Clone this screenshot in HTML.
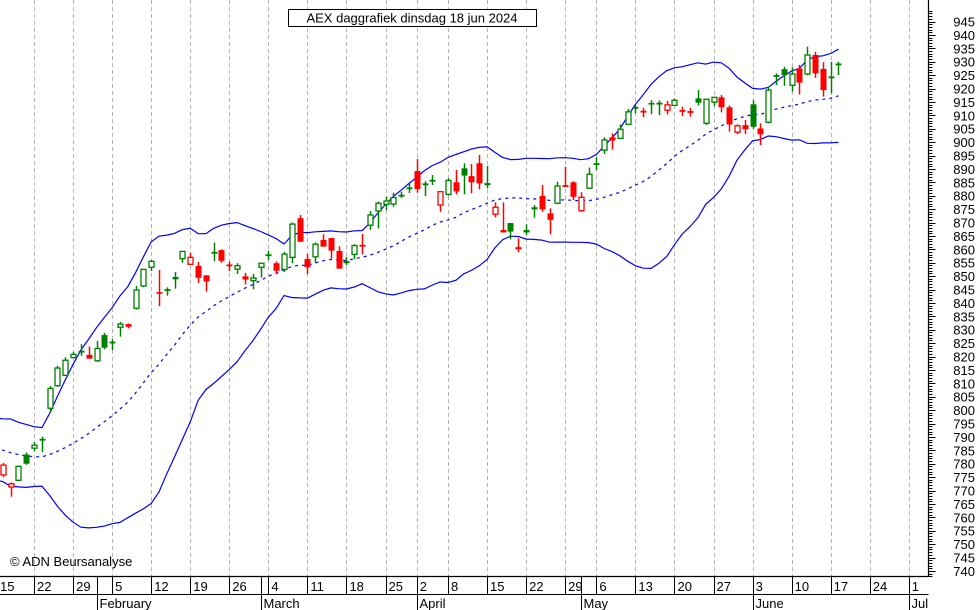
<!DOCTYPE html>
<html><head><meta charset="utf-8">
<style>
html,body{margin:0;padding:0;background:#fff;}
svg{display:block;font-family:"Liberation Sans",sans-serif;}
</style></head>
<body>
<svg id="chart" width="980" height="610" viewBox="0 0 980 610" xmlns="http://www.w3.org/2000/svg">
<rect x="0" y="0" width="980" height="610" fill="#fff"/>
<g id="grid"></g>
<g id="bands"></g>
<g id="candles"></g>
<g id="yaxis"></g>
<g id="xaxis"></g>
<g>
<rect x="288.5" y="9.5" width="248" height="17" fill="#fff" stroke="#000" stroke-width="1"/>
<text x="412" y="22.5" font-size="13" text-anchor="middle" fill="#000">AEX daggrafiek dinsdag 18 jun 2024</text>
</g>
<text x="10" y="566" font-size="13" fill="#000">© ADN Beursanalyse</text>
</svg>
<script>
const priorCloses=[789,791,793,790,792,791,790,792,791,789,787,781,778,781,780,783,779,776,777];
const opens=[778,775.8,771.3,773.8,783.4,785.8,788.7,800.7,809.1,813,
819.6,821.6,820.6,818.4,828,825,830.9,832.1,838,846.3,
853.3,844,844.6,849.7,856.5,854.4,853.8,850.3,858.5,859.7,
854.2,852.6,849.9,848.3,853.3,857.6,854.8,852.5,857,871.6,
856.4,857.2,863.5,864.2,859.4,855.6,858.1,861.5,869,874.3,
876.8,876.9,879.8,882.6,889.2,883.9,885.4,876.5,880.5,885,
890.2,887.3,892.1,883.9,873.1,867.2,869.8,860,866.3,874.9,
879.9,873.4,877.2,883.8,885,874.4,882.8,891.6,897,901.8,
901.4,906.6,912.6,911.5,914.6,914.6,911.9,913.7,911.8,911.4,
916.3,907,914.9,916.7,913,903.7,906.3,914.1,905.1,907.4,
924.5,927.2,921.2,927.5,925.4,932.5,927.3,924,928.8];
const highs=[781,780.3,773,779.3,784.2,788,790.1,809,816.5,819.7,
821.7,824.6,823.7,825.8,828.8,826.4,832.9,832.3,846.3,852.7,
856,852.3,845.8,851.5,859.4,858.7,855.3,850.3,862.5,860,
855.4,854.8,851.2,850.8,855,859.5,855.5,859,870,872.8,
858.2,862.6,865.6,864.2,861.1,857.2,861.9,865.7,874.3,877.8,
879.6,881.1,881.5,884.6,893.7,885.4,887.7,881.5,886.5,889.6,
892.1,891.8,895.2,891.1,877.5,877.5,869.8,864.1,869.3,876.5,
884,875.3,885.2,890.8,885.4,881.3,890.5,894.3,901.8,903.3,
906.6,912.4,913.8,912.8,915.7,915.5,915.4,916.2,913.2,912.8,
919.4,916.2,916.7,917.6,913.7,906.6,908.3,915.6,907,920.8,
925.7,928.1,927.9,928.8,935.6,933.7,929.8,930,930];
const lows=[776,775,767.7,773.5,779.6,784.7,784.3,799.4,808.7,812.7,
819.3,820.3,819.2,818,822.7,822.4,827.4,830.5,837.5,845.8,
851.9,838.8,842.7,845.3,855,854.4,847.5,844.2,855.6,855,
851.9,850.8,846.9,845.1,849.5,856,850.8,851.5,854.8,862.8,
850.8,855,861,856.6,852.8,854.1,856.3,858.1,867.3,867.8,
874.6,875.9,879.2,881,881.1,879.8,884,874,880,880.5,
880.5,880.9,882.4,882.8,871.9,866.3,863.7,858.9,865.2,871.8,
874,865.6,876.8,883.2,878.4,874,882.5,889.6,895.6,897.2,
901.2,906.3,910.7,909.3,910.4,910,910.3,913.5,909.7,909.5,
913.6,906.4,913.5,911.1,903.9,903,903,905,898.9,907,
921.3,921,918.8,917.8,924.9,924,917,918.2,925];
const closes=[780,779.5,772.5,779,780,786.9,789.2,808.1,815.7,818.6,
820.8,822,819.2,823,823.3,825.4,832.1,831.1,844.8,852.5,
855.5,843.4,845,848.8,859.2,857,849.4,848,858.9,855.7,
853.8,853.9,848.7,849.3,854.8,858,852,858.2,869.4,862.8,
853.3,861.9,861,859.5,852.8,854.8,861.4,861.2,872.8,877.2,
878,879.3,880.2,882.9,882.5,884.6,885.8,881.5,885.7,881.6,
887.5,885,884.6,884.7,875.7,866.3,866.6,860.8,867.2,875.7,
874.9,871,883.6,883.4,879.6,879.4,888,892,900.8,900.6,
904.8,911.3,913,911.2,914,914.1,913.9,915.6,911.5,911.1,
914.7,916,916.7,913,906.6,906.1,904.8,905.7,902.9,919.4,
924.9,925,925.4,922.2,932.5,925.7,919.4,924.3,929.2];
const weekLabels=["15","22","29","5","12","19","26","4","11","18","25","2","8","15","22","29","6","13","20","27","3","10","17","24","1"];
const weekIndex=[0,5,10,15,20,25,30,35,40,45,50,54,58,63,68,73,77,82,87,92,97,102,107,112,117];
const monthLabels=["February","March","April","May","June","Jul"];
const monthIndex=[13,34,54,75,97,117];
const yTicks=[945,940,935,930,925,920,915,910,905,900,895,890,885,880,875,870,865,860,855,850,845,840,835,830,825,820,815,810,805,800,795,790,785,780,775,770,765,760,755,750,745,740];

const NS="http://www.w3.org/2000/svg";
function X(i){return -5+7.81*i;}
function Y(v){return 21.5+(945-v)*2.68;}
function mk(tag,attrs,parent){const e=document.createElementNS(NS,tag);for(const k in attrs)e.setAttribute(k,attrs[k]);parent.appendChild(e);return e;}
const AX=928.5, AY=576.5;

const grid=document.getElementById('grid');
weekIndex.forEach((wi,k)=>{
  const x=Math.round(X(wi))+0.5;
  if(x<2||x>AX)return;
  const l=mk('line',{x1:x,y1:0,x2:x,y2:AY,stroke:'#b4b4b4','stroke-width':1,'stroke-dasharray':'4,3'},grid);
  
  
});

const all=priorCloses.concat(closes);
const off=priorCloses.length;
let up=[],mid=[],lo=[];
for(let i=0;i<closes.length;i++){
  const s=all.slice(i+off-19,i+off+1);
  const m=s.reduce((a,b)=>a+b,0)/s.length;
  const sd=Math.sqrt(s.reduce((a,b)=>a+(b-m)*(b-m),0)/s.length);
  up.push(X(i).toFixed(1)+','+Y(m+2*sd).toFixed(1));
  mid.push(X(i).toFixed(1)+','+Y(m).toFixed(1));
  lo.push(X(i).toFixed(1)+','+Y(m-2*sd).toFixed(1));
}
const bands=document.getElementById('bands');
const bu=mk('polyline',{points:up.join(' '),fill:'none',stroke:'#0000ff','stroke-width':1.2},bands);


const bm=mk('polyline',{points:mid.join(' '),fill:'none',stroke:'#0000ff','stroke-width':1.2,'stroke-dasharray':'3,4'},bands);


const bl=mk('polyline',{points:lo.join(' '),fill:'none',stroke:'#0000ff','stroke-width':1.2},bands);



const cg=document.getElementById('candles');
for(let i=0;i<closes.length;i++){
  const prev=i===0?priorCloses[priorCloses.length-1]:closes[i-1];
  const col=closes[i]>=prev?'#008000':'#ff0000';
  const filled=closes[i]<opens[i];
  const x=Math.round(X(i))+0.5;
  const g=mk('g',{},cg);
  
  
  mk('line',{x1:x,y1:Y(highs[i]),x2:x,y2:Y(lows[i]),stroke:col,'stroke-width':1.5},g);
  let yt=Y(Math.max(opens[i],closes[i])), yb=Y(Math.min(opens[i],closes[i]));
  if(yb-yt<1.5){const c=(yt+yb)/2;yt=c-0.9;yb=c+0.9;}
  if(filled||yb-yt<2.5){
    mk('rect',{x:x-3,y:yt,width:6,height:yb-yt,fill:col},g);
  }else{
    mk('rect',{x:x-2.5,y:yt,width:5,height:yb-yt,fill:'#fff',stroke:col,'stroke-width':1.3},g);
  }
}

const ya=document.getElementById('yaxis');
mk('line',{x1:AX,y1:0,x2:AX,y2:AY,stroke:'#000','stroke-width':1.2},ya);
for(let v=949;v>=738;v--){
  const y=Math.round(Y(v))+0.5;
  if(y<0||y>AY)continue;
  mk('line',{x1:AX,y1:y,x2:AX+(v%5===0?7:4),y2:y,stroke:'#000','stroke-width':1},ya);
}
yTicks.forEach(v=>{
  const t=mk('text',{x:975,y:Y(v)+5,'font-size':13,'text-anchor':'end',fill:'#000'},ya);
  t.textContent=String(v);
  
  
});

const xa=document.getElementById('xaxis');
mk('line',{x1:0,y1:AY,x2:AX,y2:AY,stroke:'#000','stroke-width':1.2},xa);
mk('line',{x1:0,y1:594.5,x2:AX,y2:594.5,stroke:'#000','stroke-width':1},xa);
weekIndex.forEach((wi,k)=>{
  const x=Math.round(X(wi))+0.5;
  if(x>2&&x<AX) mk('line',{x1:x,y1:AY,x2:x,y2:594.5,stroke:'#000','stroke-width':1},xa);
  const t=mk('text',{x:Math.max(X(wi)+3,0),y:591,'font-size':13,fill:'#000'},xa);
  t.textContent=weekLabels[k];
  
  
});
monthIndex.forEach((mi,k)=>{
  const x=Math.round(X(mi))+0.5;
  mk('line',{x1:x,y1:AY,x2:x,y2:610,stroke:'#000','stroke-width':1},xa);
  const t=mk('text',{x:x+2,y:608,'font-size':13,fill:'#000'},xa);
  t.textContent=monthLabels[k];
  
  
});
</script>
</body></html>
